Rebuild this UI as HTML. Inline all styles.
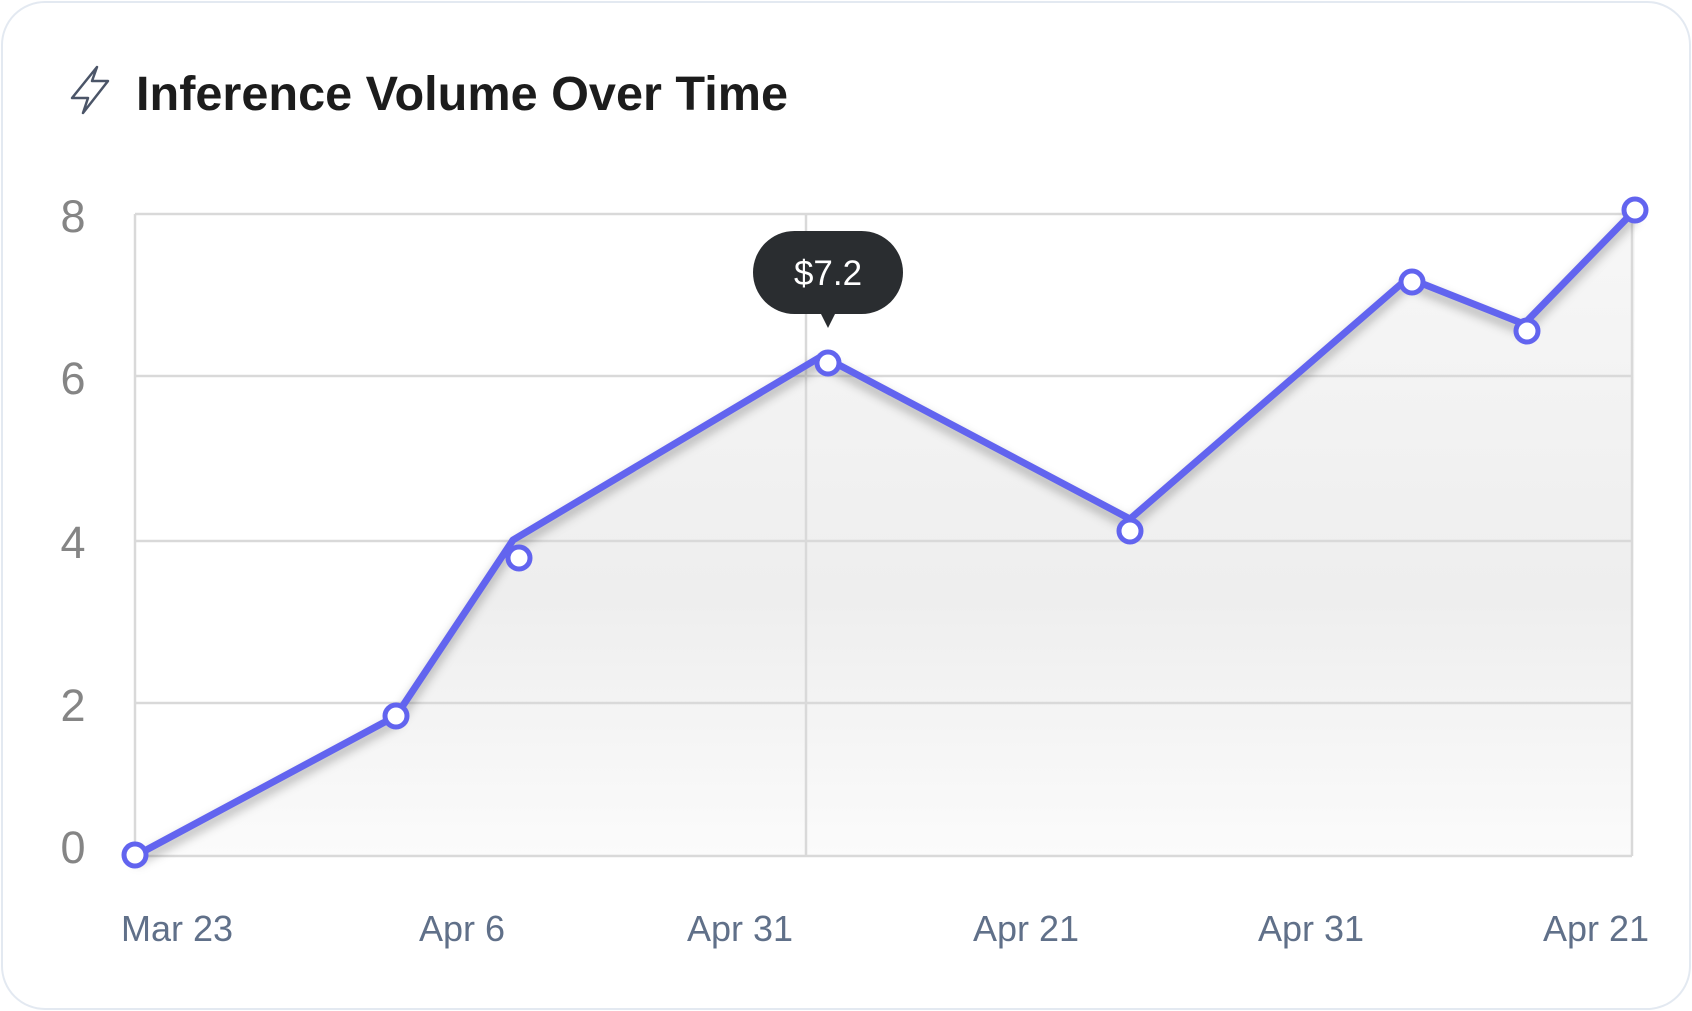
<!DOCTYPE html>
<html><head><meta charset="utf-8"><style>
html,body{margin:0;padding:0;background:#fff;}
body{width:1692px;height:1011px;position:relative;overflow:hidden;font-family:"Liberation Sans",sans-serif;}
.card{position:absolute;left:1px;top:1px;width:1686px;height:1005px;border:2px solid #e3e9f1;border-radius:44px;background:#fff;}
</style></head><body>
<div class="card"></div>
<svg width="1692" height="1011" style="position:absolute;left:0;top:0" xmlns="http://www.w3.org/2000/svg">
<defs>
<linearGradient id="fg" x1="0" y1="0" x2="0" y2="1">
<stop offset="0" stop-color="#f7f7f7"/>
<stop offset="0.6" stop-color="#eeeeee"/>
<stop offset="1" stop-color="#fbfbfb"/>
</linearGradient>
<filter id="sh" x="-10%" y="-10%" width="120%" height="130%">
<feGaussianBlur stdDeviation="5"/>
</filter>
</defs>
<path d="M97 67 L72 98 L88 98 L83 113 L108 81 L92 81 Z" fill="none" stroke="#4b5568" stroke-width="2.5" stroke-linejoin="round"/>
<text x="136" y="110" font-size="48" font-weight="bold" fill="#1c1c1c" textLength="652" lengthAdjust="spacingAndGlyphs">Inference Volume Over Time</text>
<path d="M135,856 L396,716 L513,540 L822,356 L1130,519 L1408,278 L1524,324 L1635,210 L1632,856 Z" fill="url(#fg)"/>
<g stroke="#d9d9d9" stroke-width="2.5" fill="none">
<line x1="135" y1="214" x2="1632" y2="214"/>
<line x1="135" y1="376" x2="1632" y2="376"/>
<line x1="135" y1="541" x2="1632" y2="541"/>
<line x1="135" y1="703" x2="1632" y2="703"/>
<line x1="135" y1="856" x2="1632" y2="856"/>
<line x1="135" y1="214" x2="135" y2="856"/>
<line x1="1632" y1="214" x2="1632" y2="856"/>
<line x1="806" y1="214" x2="806" y2="856"/>
</g>
<g font-size="45" fill="#858585" text-anchor="middle">
<text x="73" y="232">8</text>
<text x="73" y="394">6</text>
<text x="73" y="558">4</text>
<text x="73" y="721">2</text>
<text x="73" y="863">0</text>
</g>
<g font-size="36" fill="#607089" text-anchor="middle">
<text x="177" y="941">Mar 23</text>
<text x="462" y="941">Apr 6</text>
<text x="740" y="941">Apr 31</text>
<text x="1026" y="941">Apr 21</text>
<text x="1311" y="941">Apr 31</text>
<text x="1596" y="941">Apr 21</text>
</g>
<polyline points="135,862 396,722 513,546 822,362 1130,525 1408,284 1524,330 1635,216" fill="none" stroke="#000" stroke-opacity="0.28" stroke-width="8" filter="url(#sh)"/>
<polyline points="135,856 396,716 513,540 822,356 1130,519 1408,278 1524,324 1635,210" fill="none" stroke="#6264ef" stroke-width="7" stroke-linejoin="round"/>
<g fill="#fff" stroke="#6264ef" stroke-width="5">
<circle cx="135" cy="855" r="11"/>
<circle cx="396" cy="716" r="11"/>
<circle cx="519" cy="558" r="11"/>
<circle cx="828" cy="363" r="11"/>
<circle cx="1130" cy="531" r="11"/>
<circle cx="1412" cy="282" r="11"/>
<circle cx="1527" cy="331" r="11"/>
<circle cx="1635" cy="210" r="11"/>
</g>
<rect x="753" y="231" width="150" height="83" rx="41.5" fill="#2a2d30"/>
<path d="M820,312 L836,312 L828,328 Z" fill="#2a2d30"/>
<text x="828" y="285" font-size="35" fill="#fff" text-anchor="middle">$7.2</text>
</svg>
</body></html>
